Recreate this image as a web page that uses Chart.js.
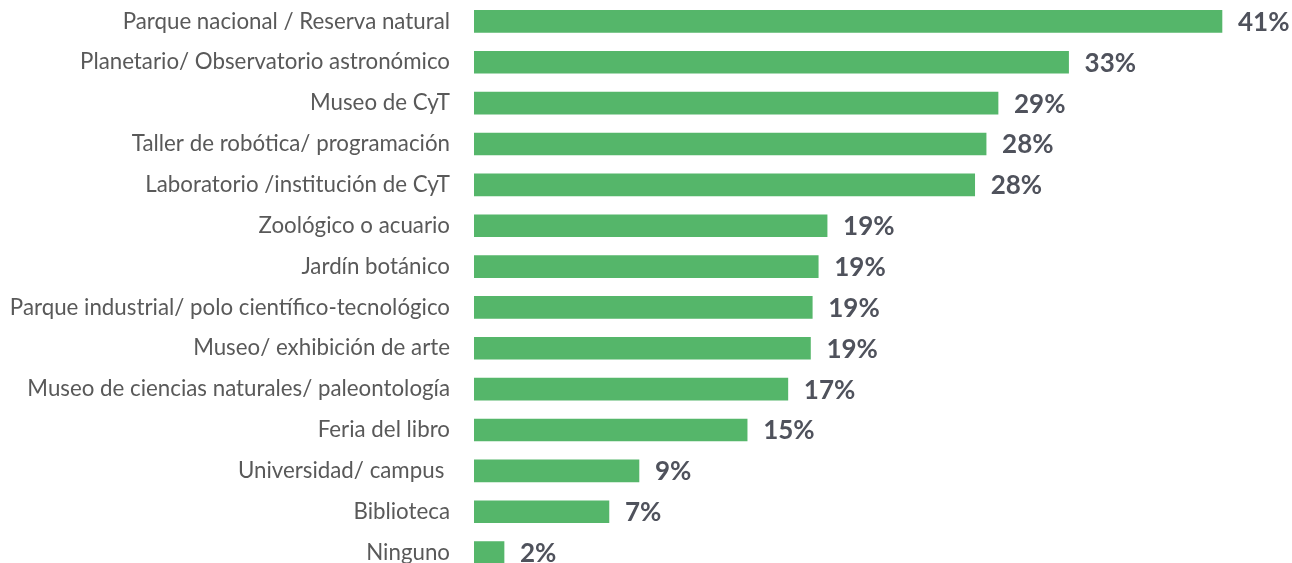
<!DOCTYPE html>
<html>
<head>
<meta charset="utf-8">
<script src="https://cdn.jsdelivr.net/npm/chart.js@4"></script>
<style>
  html, body { margin: 0; padding: 0; background: #ffffff; overflow: hidden; }
  #wrap { width: 1292px; height: 573px; }
</style>
</head>
<body>
<div id="wrap"><canvas id="c" width="1292" height="573"></canvas></div>
<script>
const categories = [
  'Parque nacional / Reserva natural',
  'Planetario/ Observatorio astronómico',
  'Museo de CyT',
  'Taller de robótica/ programación',
  'Laboratorio /institución de CyT',
  'Zoológico o acuario',
  'Jardín botánico',
  'Parque industrial/ polo científico-tecnológico',
  'Museo/ exhibición de arte',
  'Museo de ciencias naturales/ paleontología',
  'Feria del libro',
  'Universidad/ campus ',
  'Biblioteca',
  'Ninguno'
];
const values = [41.35, 32.87, 28.97, 28.31, 27.68, 19.52, 19.03, 18.70, 18.60, 17.35, 15.10, 9.12, 7.46, 1.66];
const valueLabels = ['41%', '33%', '29%', '28%', '28%', '19%', '19%', '19%', '19%', '17%', '15%', '9%', '7%', '2%'];
const axisMin = 0;
const axisMax = 45;

const CAT_FONT = 'Lato';
const valueLabelPlugin = {
  id: 'valueLabels',
  afterDatasetsDraw(chart) {
    const ctx = chart.ctx;
    const meta = chart.getDatasetMeta(0);
    ctx.save();
    ctx.font = 'bold 26px ' + CAT_FONT;
    ctx.fillStyle = '#4f525c';
    ctx.textAlign = 'left';
    ctx.textBaseline = 'middle';
    meta.data.forEach((bar, i) => {
      ctx.fillText(valueLabels[i], bar.x + 16, bar.y + 1);
    });
    ctx.restore();
  }
};

new Chart(document.getElementById('c'), {
  type: 'bar',
  data: {
    labels: categories,
    datasets: [{
      data: values,
      backgroundColor: '#55b66a',
      borderWidth: 0,
      barThickness: 22
    }]
  },
  options: {
    indexAxis: 'y',
    responsive: false,
    animation: false,
    devicePixelRatio: 1,
    layout: { padding: { top: 1, right: 4, bottom: 0, left: 0 } },
    plugins: { legend: { display: false }, tooltip: { enabled: false } },
    scales: {
      x: { display: false, min: axisMin, max: axisMax },
      y: {
        grid: { display: false, drawTicks: false },
        border: { display: false },
        ticks: {
          padding: 24,
          color: '#595959',
          font: { family: CAT_FONT, size: 22.3 }
        },
        afterFit(scale) {
          scale.width = 474;
          scale.paddingTop = 0;
          scale.paddingBottom = 0;
        }
      }
    }
  },
  plugins: [valueLabelPlugin]
});
</script>
</body>
</html>
